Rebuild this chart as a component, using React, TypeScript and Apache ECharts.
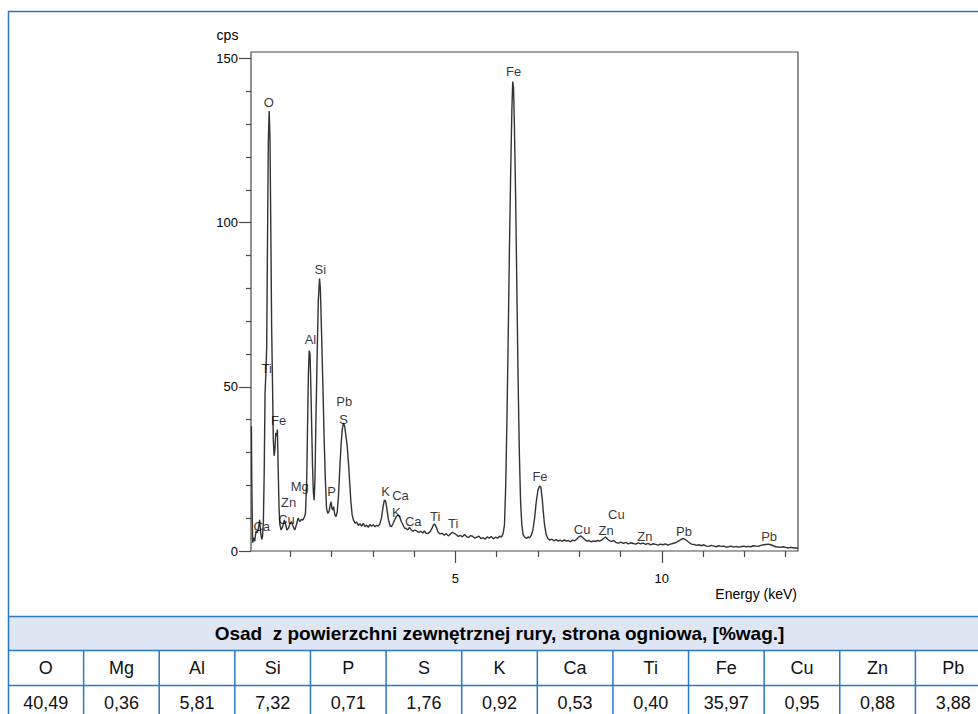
import React, { useEffect, useRef } from "react";
import * as echarts from "echarts";

const FONT = "'Liberation Sans', Arial, Helvetica, sans-serif";

// Spectrum (energy keV, counts cps)
const spectrumLow: number[][] = [
  [0.06, 38], [0.07, 20], [0.09, 2.5], [0.11, 4], [0.14, 3], [0.17, 6], [0.2, 5.5], [0.23, 7], [0.26, 9.5], [0.28, 6],
  [0.31, 3.5], [0.33, 4.5], [0.35, 9], [0.37, 24], [0.39, 48], [0.41, 54], [0.43, 62], [0.45, 95], [0.47, 125], [0.49, 134],
  [0.51, 126], [0.53, 98], [0.55, 68], [0.57, 52], [0.59, 34], [0.61, 29], [0.63, 31], [0.65, 36], [0.67, 35], [0.69, 37],
  [0.71, 24], [0.73, 13], [0.75, 8], [0.78, 6.4], [0.82, 7.5], [0.86, 9.5], [0.89, 8], [0.92, 6.4], [0.96, 7], [1.0, 8.5],
  [1.03, 8.9], [1.07, 7.5], [1.11, 6.4], [1.15, 8], [1.19, 10], [1.23, 9], [1.27, 9.6], [1.31, 9.5], [1.35, 10.5], [1.37, 11.6],
];
const spectrumAlSiS: number[][] = [
  [1.4, 22], [1.42, 38], [1.44, 54], [1.46, 61], [1.48, 60], [1.5, 50], [1.52, 38], [1.54, 26], [1.56, 18], [1.58, 15.5],
  [1.6, 22], [1.62, 38], [1.65, 58], [1.68, 76], [1.71, 83], [1.73, 80], [1.76, 66], [1.79, 51], [1.82, 35], [1.85, 22],
  [1.88, 13], [1.91, 11.5], [1.94, 12], [1.97, 14], [1.99, 15], [2.01, 13], [2.03, 12.5], [2.05, 13.5], [2.08, 11], [2.11, 10.5],
  [2.14, 12], [2.17, 17], [2.2, 25], [2.23, 32], [2.26, 37], [2.29, 39], [2.32, 38], [2.35, 35], [2.38, 32], [2.41, 27],
  [2.44, 21], [2.47, 15], [2.5, 11], [2.53, 9.5], [2.57, 8.5], [2.61, 8.8], [2.65, 7.8], [2.69, 8.3], [2.73, 7.6], [2.77, 8.4],
  [2.81, 7.4], [2.85, 7.9], [2.89, 7.2], [2.93, 8.1], [2.97, 7.5], [3.01, 8], [3.05, 7.4], [3.09, 7.8], [3.13, 7.6], [3.17, 8.2],
];
const spectrumKCaTi: number[][] = [
  [3.21, 10], [3.25, 13.5], [3.28, 15.5], [3.31, 15.3], [3.34, 13], [3.38, 9.5], [3.42, 7.6], [3.45, 7.4], [3.49, 8.3], [3.53, 9.5],
  [3.57, 10.5], [3.61, 11], [3.65, 10.5], [3.69, 9], [3.73, 8], [3.77, 7], [3.81, 6.8], [3.85, 6.4], [3.89, 7.2], [3.93, 6.5],
  [3.97, 6], [4.02, 6.4], [4.06, 6.1], [4.11, 5.7], [4.16, 6], [4.21, 5.5], [4.25, 6.1], [4.29, 5.4], [4.34, 5.3], [4.39, 5.9],
  [4.43, 6.8], [4.47, 8], [4.5, 8.2], [4.54, 7.2], [4.58, 5.8], [4.63, 5.2], [4.68, 5.4], [4.73, 4.8], [4.78, 5.3], [4.83, 4.6],
  [4.88, 5.2], [4.93, 5.7], [4.97, 5.4], [5.02, 5], [5.07, 4.4], [5.12, 4.8], [5.17, 4.3], [5.22, 5], [5.27, 4.4], [5.32, 4.1],
  [5.37, 4.7], [5.42, 4.5], [5.47, 3.9], [5.52, 4.2], [5.57, 4.5], [5.62, 3.8], [5.67, 4.1], [5.72, 3.6], [5.77, 4.3], [5.82, 3.9],
  [5.87, 4.4], [5.92, 3.7], [5.97, 4.2], [6.02, 3.9], [6.07, 4.5], [6.12, 4.3],
];
const spectrumFe: number[][] = [
  [6.16, 5.5], [6.19, 8], [6.22, 20], [6.25, 40], [6.28, 65], [6.31, 92], [6.34, 115], [6.37, 135], [6.39, 143], [6.41, 141],
  [6.43, 130], [6.46, 108], [6.49, 80], [6.52, 52], [6.55, 30], [6.58, 15], [6.61, 8], [6.64, 5], [6.68, 4.2], [6.72, 3.8],
  [6.76, 4.3], [6.8, 4], [6.84, 4.8], [6.88, 6.5], [6.92, 10], [6.96, 15], [7.0, 18.5], [7.04, 19.8], [7.07, 19.5], [7.1, 16.5],
  [7.13, 12], [7.16, 8], [7.2, 5], [7.24, 3.8],
];
const spectrumTail: number[][] = [
  [7.29, 3.3], [7.34, 3.6], [7.39, 3.1], [7.44, 3.5], [7.49, 3], [7.54, 3.3], [7.59, 2.9], [7.64, 3.4], [7.69, 3], [7.74, 3.2],
  [7.79, 2.8], [7.84, 3.3], [7.89, 3.1], [7.94, 3.6], [7.99, 4.3], [8.04, 4.6], [8.09, 4], [8.14, 3.4], [8.19, 3], [8.24, 3.2],
  [8.29, 2.8], [8.34, 3.1], [8.39, 2.9], [8.44, 3.2], [8.49, 3], [8.54, 3.3], [8.59, 3.8], [8.64, 4.2], [8.69, 3.6], [8.74, 3.1],
  [8.79, 2.9], [8.84, 3.2], [8.89, 2.6], [8.95, 2.4], [9.01, 2.7], [9.07, 2.3], [9.13, 2.6], [9.19, 2.2], [9.25, 2.5], [9.31, 2.3],
  [9.37, 2.1], [9.43, 2.5], [9.49, 2.2], [9.55, 2.4], [9.61, 2], [9.67, 2.3], [9.73, 1.9], [9.79, 2.2], [9.85, 2], [9.91, 1.8],
  [9.97, 2.1], [10.03, 1.9], [10.09, 2.2], [10.15, 1.8], [10.21, 2.1], [10.27, 2.3], [10.33, 2.5], [10.39, 2.9], [10.45, 3.4], [10.51, 3.8],
  [10.56, 3.6], [10.61, 3.1], [10.66, 2.6], [10.72, 2.1], [10.78, 2], [10.84, 1.7], [10.9, 1.9], [10.96, 1.6], [11.02, 1.9], [11.08, 1.5],
  [11.14, 1.4], [11.2, 1.7], [11.26, 1.5], [11.32, 1.3], [11.38, 1.6], [11.44, 1.4], [11.5, 1.5], [11.56, 1.2], [11.62, 1.3], [11.68, 1.5],
  [11.74, 1.2], [11.8, 1.4], [11.86, 1.2], [11.92, 1.3], [11.98, 1.5], [12.04, 1.3], [12.1, 1.4], [12.16, 1.3], [12.22, 1.6], [12.28, 1.5],
  [12.34, 1.4], [12.4, 1.7], [12.46, 1.9], [12.52, 2], [12.58, 2.1], [12.64, 1.9], [12.7, 1.6], [12.76, 1.3], [12.82, 1.2], [12.88, 1.1],
  [12.94, 1.3], [13.0, 1.1], [13.06, 0.9], [13.12, 1.1], [13.18, 1], [13.24, 0.9], [13.3, 0.9],
];

// Peak annotations: element, energy (keV), height (cps)
const peakNames = ["O", "Ti", "Fe", "Ca", "Zn", "Cu", "Mg", "Al", "Si", "P", "Pb", "S", "K", "Ca", "K", "Ca", "Ti", "Ti", "Fe", "Fe", "Cu", "Zn", "Cu", "Zn", "Pb", "Pb"];
const peakKeV = [0.48, 0.43, 0.72, 0.31, 0.96, 0.91, 1.23, 1.49, 1.73, 2.0, 2.31, 2.29, 3.31, 3.67, 3.57, 3.98, 4.51, 4.95, 6.41, 7.05, 8.07, 8.65, 8.9, 9.59, 10.54, 12.6];
const peakCps = [136.6, 55.5, 39.6, 7.6, 14.9, 9.5, 19.5, 64.3, 85.7, 18, 45.4, 40.2, 18, 17, 11.6, 9.1, 10.4, 8.5, 146, 22.6, 6.4, 6.2, 11, 4.4, 5.9, 4.4];

// Axis ticks
const yMajorTicks = [0, 50, 100, 150];
const yMinorTicks = [10, 20, 30, 40, 60, 70, 80, 90, 110, 120, 130, 140];
const xMajorTicks = [5, 10];
const xMinorTicks = [1, 2, 3, 4, 6, 7, 8, 9, 11, 12, 13];

// Table
const tableTitle = "Osad  z powierzchni zewnętrznej rury, strona ogniowa, [%wag.]";
const tableElements = ["O", "Mg", "Al", "Si", "P", "S", "K", "Ca", "Ti", "Fe", "Cu", "Zn", "Pb"];
const tableValues = ["40,49", "0,36", "5,81", "7,32", "0,71", "1,76", "0,92", "0,53", "0,40", "35,97", "0,95", "0,88", "3,88"];

const BLUE = "#2a78c6";

function buildGraphic() {
  const els: any[] = [];
  const tableLeft = 8;
  const colW = 983 / tableElements.length;
  const yTop = 616.5;
  const yHead = 650.5;
  const yRow1 = 685.5;
  els.push({ type: "rect", shape: { x: tableLeft, y: yTop, width: 990, height: yHead - yTop }, style: { fill: "#dee5f3" }, silent: true });
  els.push({ type: "rect", shape: { x: 8.5, y: 11.5, width: 1000, height: 730 }, style: { fill: "none", stroke: BLUE, lineWidth: 1.5 }, silent: true });
  [yTop, yHead, yRow1].forEach((y) => {
    els.push({ type: "line", shape: { x1: tableLeft, y1: y, x2: 1000, y2: y }, style: { stroke: BLUE, lineWidth: 1.5 }, silent: true });
  });
  for (let i = 1; i < tableElements.length + 1; i++) {
    const x = tableLeft + i * colW;
    els.push({ type: "line", shape: { x1: x, y1: yHead, x2: x, y2: 730 }, style: { stroke: BLUE, lineWidth: 1.5 }, silent: true });
  }
  els.push({
    type: "text", x: 499.5, y: 633.5, silent: true,
    style: { text: tableTitle, fill: "#000", font: `bold 19px ${FONT}`, align: "center", verticalAlign: "middle", textAlign: "center", textVerticalAlign: "middle" },
  });
  tableElements.forEach((el, i) => {
    const cx = tableLeft + (i + 0.5) * colW;
    els.push({ type: "text", x: cx, y: 668, silent: true, style: { text: el, fill: "#111", font: `18px ${FONT}`, align: "center", verticalAlign: "middle", textAlign: "center", textVerticalAlign: "middle" } });
    els.push({ type: "text", x: cx, y: 703, silent: true, style: { text: tableValues[i], fill: "#111", font: `18px ${FONT}`, align: "center", verticalAlign: "middle", textAlign: "center", textVerticalAlign: "middle" } });
  });
  els.push({ type: "text", x: 227.5, y: 35, silent: true, style: { text: "cps", fill: "#000", font: `14px ${FONT}`, align: "center", verticalAlign: "middle", textAlign: "center", textVerticalAlign: "middle" } });
  els.push({ type: "text", x: 797, y: 594, silent: true, style: { text: "Energy (keV)", fill: "#000", font: `14px ${FONT}`, align: "right", verticalAlign: "middle", textAlign: "right", textVerticalAlign: "middle" } });
  return els;
}

export default function App() {
  const ref = useRef<HTMLDivElement>(null);
  useEffect(() => {
    const chart = echarts.init(ref.current!, null, { renderer: "svg" });
    const spectrum = [...spectrumLow, ...spectrumAlSiS, ...spectrumKCaTi, ...spectrumFe, ...spectrumTail];
    const axisColor = "#4a4a4a";
    const option: any = {
      animation: false,
      backgroundColor: "#fff",
      textStyle: { fontFamily: FONT },
      grid: { left: 251, top: 52, width: 547, height: 499, show: true, borderColor: axisColor, borderWidth: 1.2, backgroundColor: "transparent" },
      xAxis: [
        {
          type: "value", min: 0.05, max: 13.3, position: "bottom",
          axisLine: { show: false }, splitLine: { show: false },
          axisTick: { show: true, customValues: xMajorTicks, length: 12, lineStyle: { color: axisColor, width: 1.2 } },
          axisLabel: { show: true, customValues: xMajorTicks, margin: 21, fontSize: 13, color: "#000", fontFamily: FONT },
        },
        {
          type: "value", min: 0.05, max: 13.3, position: "bottom",
          axisLine: { show: false }, splitLine: { show: false },
          axisTick: { show: true, customValues: xMinorTicks, length: 6, lineStyle: { color: axisColor, width: 1.2 } },
          axisLabel: { show: false },
        },
      ],
      yAxis: [
        {
          type: "value", min: 0, max: 152, position: "left",
          axisLine: { show: false }, splitLine: { show: false },
          axisTick: { show: true, customValues: yMajorTicks, length: 12, lineStyle: { color: axisColor, width: 1.2 } },
          axisLabel: { show: true, customValues: yMajorTicks, margin: 13, fontSize: 13, color: "#000", fontFamily: FONT },
        },
        {
          type: "value", min: 0, max: 152, position: "left",
          axisLine: { show: false }, splitLine: { show: false },
          axisTick: { show: true, customValues: yMinorTicks, length: 5, lineStyle: { color: axisColor, width: 1.2 } },
          axisLabel: { show: false },
        },
      ],
      series: [
        {
          type: "line", xAxisIndex: 0, yAxisIndex: 0, data: spectrum, showSymbol: false, symbol: "none",
          lineStyle: { color: "#333", width: 1.4 }, z: 2,
        },
        {
          type: "scatter", xAxisIndex: 0, yAxisIndex: 0, symbolSize: 1, itemStyle: { color: "rgba(0,0,0,0)" }, z: 3,
          data: peakNames.map((n, i) => ({ name: n, value: [peakKeV[i], peakCps[i]] })),
          label: { show: true, position: "inside", formatter: (p: any) => p.name, fontSize: 13, color: "#000", fontFamily: FONT },
        },
      ],
      graphic: buildGraphic(),
    };
    chart.setOption(option);
    return () => chart.dispose();
  }, []);
  return <div ref={ref} style={{ position: "absolute", left: 0, top: 0, width: 978, height: 714, background: "#fff" }} />;
}
